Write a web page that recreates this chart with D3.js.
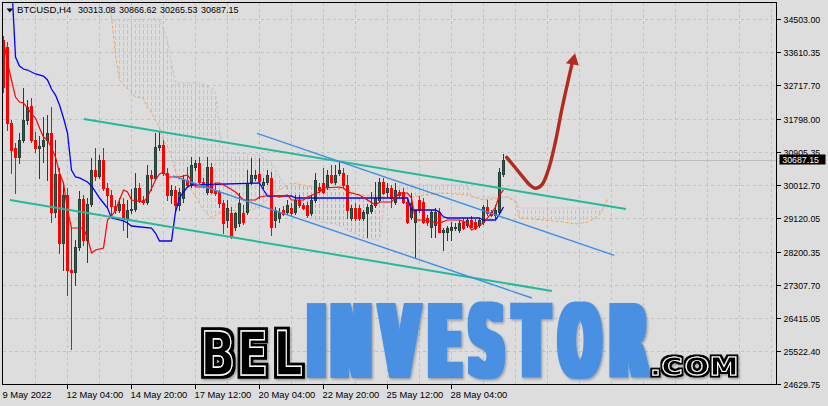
<!DOCTYPE html>
<html>
<head>
<meta charset="utf-8">
<script src="https://cdn.jsdelivr.net/npm/d3@7"></script>
<style>
  html, body { margin: 0; padding: 0; background: #dddddd; }
  svg { display: block; }
</style>
</head>
<body>
<div id="chart"></div>
<script>
// BTCUSD H4 candles + Ichimoku cloud, trend channels, forecast arrow, watermark

const timeLabelBars = [0, 16, 32, 48, 64, 80, 96, 112];
const timeLabels = ['9 May 2022', '12 May 04:00', '14 May 20:00', '17 May 12:00', '20 May 04:00', '22 May 20:00', '25 May 12:00', '28 May 04:00'];
const priceTicks = [34503.00, 33610.35, 32717.70, 31798.00, 30905.35, 30012.70, 29120.05, 28200.35, 27307.70, 26415.05, 25522.40, 24629.75];
const symbolLabel = 'BTCUSD,H4';

const opens = [33942,33753,31695,31019,30775,31235,31777,32156,31235,31019,31073,31235,31425,29286,30315,28447,29746,27716,27662,28339,
  29638,28528,29503,30423,30261,30694,29936,29746,29449,29340,29503,29097,29340,29367,29936,29611,29557,30288,30207,31046,
  31100,30342,29746,29882,29476,29665,30152,30017,30504,30613,30098,29828,30504,29882,29828,29530,29070,29259,28880,28988,
  29259,29286,30098,30207,30315,30017,30098,30207,29070,29124,29340,29286,29394,29286,29611,29476,29476,29259,29611,29963,
  30071,29963,30288,30098,30342,30342,30017,29124,29394,29394,29124,29259,29313,29476,29611,30098,29828,29936,29557,29828,
  29828,29557,29151,29015,29611,29557,29124,28880,28934,29286,28745,28745,28799,28853,28799,29015,28934,29070,29015,28934,
  29015,29421,29286,29205,29286,30313.08];
const highs = [34051,33888,31777,31154,31425,32643,32318,32372,31452,31343,31858,31912,32128,31235,30477,30098,29936,28853,28528,29855,
  29746,29665,30748,31019,30829,31019,30071,29882,29611,29665,29665,29611,29909,30342,30071,29719,30558,30423,31425,31452,
  31235,30477,30017,29990,29936,30288,30504,30775,30694,30775,30207,30775,30613,30071,29882,29611,29611,29421,29286,29800,
  29476,30423,30748,30423,30748,30207,30423,30369,29421,29394,29449,29611,29530,29746,29746,29530,29557,29746,30342,30071,
  30477,30423,30558,30558,30640,30477,30288,29476,29530,29476,29340,29503,29828,30098,30207,30207,30071,30017,30071,29882,
  29936,29665,29800,29340,29719,29665,29205,29340,29394,29394,28853,28907,29015,28988,29070,29124,29124,29178,29097,29124,
  29476,29611,29340,29476,30477,30866.62];
const lows = [32535,31506,30342,29800,30613,31181,31668,31181,30910,30207,30640,30152,29015,29151,28176,27716,27039,25578,27310,28257,
  28393,27933,29449,30152,30207,29882,29421,29151,29259,29286,28799,28609,29259,29313,29557,29503,29503,29882,30152,30964,
  30288,29611,29530,29286,29340,29557,29990,29963,30423,30071,29963,29773,29800,29746,29421,28718,28880,28582,28799,28907,
  28961,29232,30044,30152,29665,29936,30044,28663,28880,29015,29205,29232,29205,29232,29421,29367,29151,29205,29557,29828,
  29800,29909,30071,30044,30288,29963,29124,29070,29070,29070,29070,28609,29259,29421,29557,29773,29719,29421,29503,29692,
  29530,28988,29097,28041,29286,28988,28934,28609,28609,28745,28257,28528,28528,28799,28745,28826,28880,28880,28826,28880,
  28961,29205,29178,29124,29232,30265.53];
const closes = [32670,31695,30964,30775,31235,31777,32128,31235,31019,31073,31235,31425,29286,30315,28447,29746,27716,27662,28339,29638,
  28528,29503,30423,30261,30694,29936,29746,29449,29340,29503,29097,29340,29367,29936,29611,29557,30288,30207,31046,31100,
  30342,29746,29882,29476,29828,30152,30017,30558,30613,30098,30044,30504,29828,29800,29530,28988,29394,28609,29259,29530,
  29015,30071,30288,30288,30125,30098,30288,28880,29340,29286,29232,29476,29259,29611,29476,29394,29205,29611,30152,29882,
  29828,30288,30098,30288,30423,30017,29340,29394,29124,29124,29286,29421,29476,29665,30098,29800,29936,29665,29882,29746,
  29557,29015,29530,29340,29340,29015,29015,29286,29286,28745,28799,28853,28880,28880,28988,28853,29070,28880,28853,29070,
  29421,29259,29205,29340,30369,30687.15];

// Ichimoku lines as [bar, price] points
const tenkan = [[0,33942],[1,33320],[2,32860],[3,32399],[4,32264],[5,32237],[6,32101],[7,31939],[8,31831],[9,31560],[10,31316],
  [11,31235],[12,31019],[13,30775],[14,30342],[15,30071],[16,29340],[17,28853],[20,28853],[21,28582],[22,28176],[23,28257],
  [25,28311],[26,29070],[27,29178],[28,29340],[29,29611],[30,29882],[31,29828],[32,29611],[35,29557],[36,29692],[38,30152],
  [39,30315],[40,30369],[41,30234],[44,30234],[46,30288],[48,29963],[52,29963],[53,30071],[54,30071],[56,29963],[58,29828],
  [60,29611],[63,29611],[64,29692],[67,29746],[69,29692],[71,29746],[72,29611],[75,29611],[76,29692],[79,29828],[80,29936],
  [84,29963],[85,29936],[86,29828],[87,29800],[89,29746],[91,29611],[93,29476],[94,29557],[97,29557],[99,29800],[101,29800],
  [102,29665],[103,29070],[105,29070],[109,28988],[111,29070],[114,29070],[116,28988],[117,28799],[118,28853],[119,28934],
  [120,28988],[121,29124],[122,29259],[123,29421],[124,29746],[125,29882]];
const kijun = [[0,36108],[1,35837],[2,35566],[3,33482],[4,33238],[5,33157],[6,33130],[8,33022],[10,32968],[11,32860],[12,32616],
  [13,32453],[14,32183],[15,31831],[16,31425],[17,30423],[18,30234],[19,30207],[21,30098],[22,29990],[23,29828],[24,29665],
  [25,29530],[26,29394],[27,29124],[29,29070],[30,29043],[31,28988],[32,28907],[37,28853],[38,28718],[39,28501],[42,28501],
  [43,29286],[44,29665],[45,29828],[46,29963],[47,30017],[64,30071],[65,29882],[66,29719],[72,29719],[73,29665],[101,29665],
  [102,29340],[108,29340],[109,29286],[110,29151],[111,29124],[119,29124],[120,29070],[123,29070],[124,29232],[125,29421]];
const spanA = [[0,35837],[20,35566],[26,35161],[27,34565],[28,33536],[29,32860],[30,32724],[32,32535],[33,32399],[35,32372],
  [36,32101],[37,31966],[38,31777],[39,31560],[40,31235],[41,31046],[42,30775],[43,30369],[44,30152],[47,29882],[50,29340],
  [52,29124],[54,29259],[57,29340],[60,29286],[62,29340],[64,29421],[67,29746],[69,29882],[72,30071],[75,30017],[77,29963],
  [82,29882],[85,29936],[89,29746],[94,29719],[99,29638],[104,29719],[110,29800],[116,29746],[120,29611],[124,29665],
  [126,29692],[128,29557],[129,29124],[135,29070],[140,29015],[143,28961],[146,29015],[148,29124],[149,29205],[150,29394],[151,29665]];
const spanB = [[0,36649],[26,36649],[27,34484],[39,34511],[41,33942],[42,33320],[43,32778],[49,32778],[52,32643],[53,32535],
  [54,31506],[55,30910],[64,30829],[67,30613],[68,30423],[71,29882],[73,29611],[76,29205],[79,29015],[83,28961],[85,28853],
  [90,28582],[94,28528],[95,29394],[96,29692],[99,30017],[116,30017],[117,29692],[126,29692],[128,29611],[129,29394],[151,29394]];

// hand-drawn objects, [bar, price]
const tealLines = [[[20.1,31804],[155.6,29367]], [[1.6,29611],[137.1,27148]]];
const blueLines = [[[63.4,31417],[152.7,28114]], [[42.4,30261],[132.1,26958]]];
const arrowPath = [[125.8,30767],[129.1,30334],[131.6,30017],[132.9,29928],[134.55,30017],[136.2,30423],[137.9,31146],
  [139.55,32047],[141.2,32860],[142.05,33265]];
const arrowHead = [[140.6,33312],[142.9,33582],[143.8,33252]];

const W = 828, H = 406;
const L = 2.5, T = 2.5, R = 776.5, B = 384.5;
const FONT = '"Liberation Sans", Arial, sans-serif';
const BEAR = '#ff0000', BULL = '#2e5c4c', BULL_EDGE = '#233f36';

const last = opens.length - 1;
const x = d3.scaleLinear().domain([0, last]).range([3.5, 3.5 + 4 * last]);
const y = d3.scaleLinear().domain([24629.75, 34503]).range([384, 19.3]);
const yr = y.copy().interpolate(d3.interpolateRound);

const svg = d3.select('#chart').append('svg').attr('width', W).attr('height', H)
  .style('background', '#dddddd');
const defs = svg.append('defs');

defs.append('clipPath').attr('id', 'plot').append('rect')
  .attr('x', 3).attr('y', 3).attr('width', R - 3.5).attr('height', B - 3.5);

function hatch(id, color) {
  const p = defs.append('pattern').attr('id', id).attr('patternUnits', 'userSpaceOnUse')
    .attr('width', 4).attr('height', 6);
  p.append('rect').attr('x', 3).attr('y', 0).attr('width', 1).attr('height', 4).attr('fill', color);
}
hatch('hatchA', '#f4a460');
hatch('hatchB', '#d5b9d5');

function clipArea(id, pts, below) {
  const area = d3.area().x(d => x(d[0])).y0(d => y(d[1])).y1(below ? 600 : -200);
  defs.append('clipPath').attr('id', id).append('path').attr('d', area(pts));
}
clipArea('belowA', spanA, true);
clipArea('aboveA', spanA, false);
clipArea('belowB', spanB, true);
clipArea('aboveB', spanB, false);

// watermark filters: heavy blue letters, and black letters with an inline white rule
const fBlue = defs.append('filter').attr('id', 'wmBlue')
  .attr('x', '-5%').attr('y', '-15%').attr('width', '112%').attr('height', '135%');
fBlue.append('feMorphology').attr('in', 'SourceGraphic').attr('operator', 'dilate').attr('radius', '5 1').attr('result', 'fat');
fBlue.append('feDropShadow').attr('in', 'fat').attr('dx', 1.2).attr('dy', 1.5).attr('stdDeviation', 1.3)
  .attr('flood-color', '#000').attr('flood-opacity', 0.3);

function inlineFilter(id, r) {
  const f = defs.append('filter').attr('id', id)
    .attr('x', '-10%').attr('y', '-20%').attr('width', '125%').attr('height', '150%');
  f.append('feMorphology').attr('in', 'SourceAlpha').attr('operator', 'dilate').attr('radius', r).attr('result', 'outer');
  f.append('feFlood').attr('flood-color', '#000').attr('result', 'ink');
  f.append('feComposite').attr('in', 'ink').attr('in2', 'outer').attr('operator', 'in').attr('result', 'band');
  const m = f.append('feMerge').attr('result', 'word');
  m.append('feMergeNode').attr('in', 'band');
  m.append('feMergeNode').attr('in', 'SourceGraphic');
  f.append('feDropShadow').attr('in', 'word').attr('dx', 1.2).attr('dy', 1.5).attr('stdDeviation', 1.2)
    .attr('flood-color', '#000').attr('flood-opacity', 0.3);
}
inlineFilter('wmInline', 3);
inlineFilter('wmInlineSmall', 2);

// grid
const grid = svg.append('g').attr('stroke', '#c2c2c2').attr('stroke-dasharray', '3,3')
  .attr('shape-rendering', 'crispEdges');
grid.selectAll('line.h').data(priceTicks.slice(0, -1)).join('line').attr('class', 'h')
  .attr('x1', 3).attr('x2', R).attr('y1', d => yr(d) + 0.5).attr('y2', d => yr(d) + 0.5);
grid.selectAll('line.v').data(d3.range(8, 194, 8)).join('line').attr('class', 'v')
  .attr('x1', d => x(d)).attr('x2', d => x(d)).attr('y1', 3).attr('y2', B);

const plot = svg.append('g').attr('clip-path', 'url(#plot)');

// cloud hatching: A above B -> sandy, B above A -> thistle
plot.append('g').attr('clip-path', 'url(#belowA)')
  .append('rect').attr('clip-path', 'url(#aboveB)')
  .attr('x', 0).attr('y', 0).attr('width', W).attr('height', H).attr('fill', 'url(#hatchA)');
plot.append('g').attr('clip-path', 'url(#belowB)')
  .append('rect').attr('clip-path', 'url(#aboveA)')
  .attr('x', 0).attr('y', 0).attr('width', W).attr('height', H).attr('fill', 'url(#hatchB)');

const line = d3.line().x(d => x(d[0])).y(d => y(d[1]));
plot.append('path').attr('d', line(spanA)).attr('fill', 'none')
  .attr('stroke', '#f4a460').attr('stroke-width', 1).attr('stroke-dasharray', '3,2');
plot.append('path').attr('d', line(spanB)).attr('fill', 'none')
  .attr('stroke', '#d5b9d5').attr('stroke-width', 1).attr('stroke-dasharray', '3,2');

// bid line
const bid = closes[last];
plot.append('line').attr('x1', 3).attr('x2', R).attr('y1', yr(bid) + 0.5).attr('y2', yr(bid) + 0.5)
  .attr('stroke', '#bdbdbd').attr('shape-rendering', 'crispEdges');

// candles
const bars = opens.map((o, i) => ({ i, o, h: highs[i], l: lows[i], c: closes[i] }));
const cg = plot.append('g').attr('shape-rendering', 'crispEdges');
cg.selectAll('line').data(bars).join('line')
  .attr('x1', d => x(d.i)).attr('x2', d => x(d.i))
  .attr('y1', d => yr(d.h)).attr('y2', d => yr(d.l) + 1)
  .attr('stroke', d => d.c >= d.o ? BULL_EDGE : BEAR);
cg.selectAll('rect').data(bars).join('rect')
  .attr('x', d => x(d.i) - 1).attr('width', 2)
  .attr('y', d => yr(Math.max(d.o, d.c)) + 0.5)
  .attr('height', d => Math.max(0, yr(Math.min(d.o, d.c)) - yr(Math.max(d.o, d.c))))
  .attr('fill', d => d.c >= d.o ? BULL : BEAR)
  .attr('stroke', d => d.c >= d.o ? BULL_EDGE : BEAR);

// tenkan / kijun
plot.append('path').attr('d', line(kijun)).attr('fill', 'none').attr('stroke', '#0000ff').attr('stroke-width', 1.3);
plot.append('path').attr('d', line(tenkan)).attr('fill', 'none').attr('stroke', '#ff0000').attr('stroke-width', 1.2);

// channels
plot.selectAll('path.teal').data(tealLines).join('path').attr('class', 'teal')
  .attr('d', line).attr('stroke', '#22bb99').attr('stroke-width', 2).attr('fill', 'none');
plot.selectAll('path.blue').data(blueLines).join('path').attr('class', 'blue')
  .attr('d', line).attr('stroke', '#3a8fe8').attr('stroke-width', 1.4).attr('fill', 'none');

// border
svg.append('rect').attr('x', L).attr('y', T).attr('width', R - L).attr('height', B - T)
  .attr('fill', 'none').attr('stroke', '#000').attr('shape-rendering', 'crispEdges');

// watermark: one text per word, letters placed one by one and squeezed horizontally
function word(text, centers, base, size, sx, filter, fill, rule) {
  const g = svg.append('g').attr('filter', `url(#${filter})`);
  const t = g.append('text').attr('transform', `scale(${sx},1)`)
    .attr('x', centers.map(c => (c / sx).toFixed(2)).join(' ')).attr('y', base)
    .attr('text-anchor', 'middle')
    .style('font-family', '"DejaVu Sans", sans-serif').style('font-weight', 'bold')
    .attr('font-size', size).attr('fill', fill).text(text);
  if (rule) t.attr('stroke', '#fff').attr('stroke-width', rule);
}
word('BEL', [218, 252.5, 288], 375, 60, 0.76, 'wmInline', '#000', 1.4);
word('INVESTOR', [316.5, 351, 399.5, 445, 486.5, 531.5, 580, 628.5], 377, 100, 0.48, 'wmBlue', '#4a90e2', 0);
word('.COM', [655.5, 672, 697, 724], 375, 25, 1.15, 'wmInlineSmall', '#000', 0.9);

// forecast arrow
const curve = d3.line().x(d => x(d[0])).y(d => y(d[1])).curve(d3.curveCatmullRom.alpha(0.5));
svg.append('path').attr('d', curve(arrowPath)).attr('fill', 'none')
  .attr('stroke', '#b22b1d').attr('stroke-width', 3.4).attr('stroke-linecap', 'round');
svg.append('path').attr('d', line(arrowHead) + 'Z').attr('fill', '#b22b1d');

// price axis
const yAxis = d3.axisRight(yr).tickValues(priceTicks).tickSize(4).tickPadding(3)
  .tickFormat(d3.format('.2f'));
const gy = svg.append('g').attr('transform', `translate(${R},0)`).call(yAxis)
  .attr('color', '#000').attr('font-family', FONT).attr('font-size', 9.8);
gy.select('.domain').remove();
gy.selectAll('line').attr('shape-rendering', 'crispEdges');
gy.selectAll('text').attr('textLength', 36.7).attr('lengthAdjust', 'spacingAndGlyphs').attr('dy', '0.34em');

const by = yr(bid);
svg.append('rect').attr('x', 779.5).attr('y', by - 5.5).attr('width', 46).attr('height', 10).attr('fill', '#000');
svg.append('text').attr('x', 782.3).attr('y', by + 3.2).attr('fill', '#fff')
  .attr('font-family', FONT).attr('font-size', 9.8)
  .attr('textLength', 36.7).attr('lengthAdjust', 'spacingAndGlyphs')
  .text(d3.format('.2f')(bid));

// time axis
const xAxis = d3.axisBottom(x).tickValues(timeLabelBars).tickSize(4).tickPadding(3).offset(0)
  .tickFormat((d, i) => timeLabels[i]);
const gx = svg.append('g').attr('transform', `translate(0,${B})`).call(xAxis)
  .attr('color', '#000').attr('font-family', FONT).attr('font-size', 9.4);
gx.select('.domain').remove();
gx.selectAll('line').attr('shape-rendering', 'crispEdges').attr('opacity', (d, i) => i === 0 ? 0 : 1);
gx.selectAll('text').attr('text-anchor', 'start').attr('dx', -1);

// header
svg.append('path').attr('d', 'M6.5,8.5H13L9.75,12.5Z').attr('fill', '#000');
const head = svg.append('g').attr('font-family', FONT).attr('font-size', 9.8).attr('fill', '#000');
head.append('text').attr('x', 17).attr('y', 13.3).attr('textLength', 54.3)
  .attr('lengthAdjust', 'spacingAndGlyphs').text(symbolLabel);
const ohlc = [opens[last], highs[last], lows[last], closes[last]];
head.selectAll('text.v').data(ohlc).join('text').attr('class', 'v')
  .attr('x', (d, i) => 78 + 41 * i).attr('y', 13.3)
  .attr('textLength', 37.5).attr('lengthAdjust', 'spacingAndGlyphs')
  .text(d => d3.format('.2f')(d));
</script>
</body>
</html>
